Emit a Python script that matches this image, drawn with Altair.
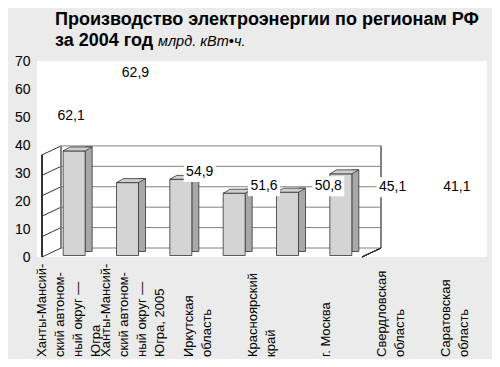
import altair as alt
import pandas as pd

# ---- data ----
categories = [
    "Ханты-Мансий-\nский автоном-\nный округ —\nЮгра",
    "Ханты-Мансий-\nский автоном-\nный округ —\nЮгра, 2005",
    "Иркутская\nобласть",
    "Красноярский\nкрай",
    "г. Москва",
    "Свердловская\nобласть",
    "Саратовская\nобласть",
]
label_values = [62.1, 62.9, 54.9, 51.6, 50.8, 45.1, 41.1]
# height (left-axis units) at which each value label is printed
label_heights = [50.4, 65.7, 30.4, 25.3, 25.3, 24.9, 24.9]
# heights of the six 3-D bars, in the units of the 3-D box (0..50)
bar_heights = [51.2, 35.7, 37.3, 30.5, 31.0, 40.0]
box_levels = [0, 10, 20, 30, 40, 50]
y_ticks = [0, 10, 20, 30, 40, 50, 60, 70]

title_line1 = "Производство электроэнергии по регионам РФ"
title_line2 = "за 2004 год"
title_unit = "млрд. кВт•ч."

FONT = "Liberation Sans, Arial, sans-serif"
DX, DY = 19, 9          # depth of the 3-D box (px)
FRONT_W, SIDE_W, CAP_H = 22, 7, 4
BAR_SHIFT, BAR_LIFT = 5.5, 1.5
LINE_H = 18

lab_df = pd.DataFrame({
    "cat": categories,
    "h": label_heights,
    "text": [f"{v:.1f}".replace(".", ",") for v in label_values],
    "n": [c.count("\n") + 1 for c in categories],
})
bar_df = pd.DataFrame({"i": list(range(len(bar_heights))), "h": bar_heights})
bar_df["xc"] = bar_df["i"] + 0.5
lev_df = pd.DataFrame({"v": box_levels})

# ---- 3-D box group ----
bx = alt.Scale(domain=[0, 6], range=[0, 330], nice=False, zero=False)
by = alt.Scale(domain=[0, 96], nice=False, zero=False)

grid_back = alt.Chart(lev_df).mark_rule(
    color="#808080", strokeWidth=1, xOffset=DX, x2Offset=DX, yOffset=-DY, y2Offset=-DY
).encode(x=alt.X(datum=0, scale=bx, axis=None), x2=alt.X2(datum=6),
         y=alt.Y("v:Q", scale=by, axis=None), y2="v:Q")

diag = alt.Chart(lev_df).mark_rule(
    color="#333333", strokeWidth=1, x2Offset=DX, y2Offset=-DY
).encode(x=alt.X(datum=0, scale=bx, axis=None), x2=alt.X2(datum=0),
         y=alt.Y("v:Q", scale=by, axis=None), y2="v:Q")

front_v = alt.Chart(lev_df).mark_rule(color="#333333", strokeWidth=1).encode(
    x=alt.X(datum=0, scale=bx, axis=None),
    y=alt.Y(datum=0, scale=by, axis=None), y2=alt.Y2(datum=50))

back_l = alt.Chart(lev_df).mark_rule(
    color="#808080", strokeWidth=1, xOffset=DX, yOffset=-DY, y2Offset=-DY
).encode(x=alt.X(datum=0, scale=bx, axis=None),
         y=alt.Y(datum=0, scale=by, axis=None), y2=alt.Y2(datum=50))

back_r = alt.Chart(lev_df).mark_rule(
    color="#808080", strokeWidth=1, xOffset=DX, yOffset=-DY, y2Offset=-DY
).encode(x=alt.X(datum=6, scale=bx, axis=None),
         y=alt.Y(datum=0, scale=by, axis=None), y2=alt.Y2(datum=50))

floor_r = alt.Chart(lev_df).mark_rule(
    color="#333333", strokeWidth=1, x2Offset=DX, y2Offset=-DY
).encode(x=alt.X(datum=6, scale=bx, axis=None), x2=alt.X2(datum=6),
         y=alt.Y(datum=0, scale=by, axis=None), y2=alt.Y2(datum=0))

side = alt.Chart(bar_df).mark_bar(
    width=SIDE_W, xOffset=BAR_SHIFT + FRONT_W / 2 + SIDE_W / 2,
    yOffset=-BAR_LIFT - CAP_H, y2Offset=-BAR_LIFT - CAP_H,
    fill="#a8a8a8", stroke="#333333", strokeWidth=0.8
).encode(x=alt.X("xc:Q", scale=bx, axis=None),
         y=alt.Y("h:Q", scale=by, axis=None), y2=alt.Y2(datum=0))

front = alt.Chart(bar_df).mark_bar(
    width=FRONT_W, xOffset=BAR_SHIFT, yOffset=-BAR_LIFT, y2Offset=-BAR_LIFT,
    fill="#d4d4d4", stroke="#333333", strokeWidth=0.8
).encode(x=alt.X("xc:Q", scale=bx,
                 axis=alt.Axis(values=[0, 1, 2, 3, 4, 5, 6], orient="bottom", labels=False,
                               ticks=True, tickSize=4, tickColor="#333333", domain=True,
                               domainColor="#333333", grid=False, title=None)),
         y=alt.Y("h:Q", scale=by, axis=None), y2=alt.Y2(datum=0))

r = (FRONT_W + SIDE_W) / 2
px = lambda v: round(v / r, 4)
cap_path = (f"M {px(-r)} {px(CAP_H/2)} L {px(-r + SIDE_W)} {px(-CAP_H/2)} "
            f"L {px(r)} {px(-CAP_H/2)} L {px(r - SIDE_W)} {px(CAP_H/2)} Z")
cap = alt.Chart(bar_df).mark_point(
    shape=cap_path, size=(2 * r) ** 2, filled=True, fill="#cfcfcf", fillOpacity=1,
    stroke="#333333", strokeWidth=0.8, opacity=1,
    xOffset=BAR_SHIFT + SIDE_W / 2, yOffset=-BAR_LIFT - CAP_H / 2
).encode(x=alt.X("xc:Q", scale=bx, axis=None), y=alt.Y("h:Q", scale=by, axis=None))

box_group = alt.layer(grid_back, diag, front_v, back_l, back_r, floor_r, side, front, cap)

# ---- label group (left axis, value labels, category names, title) ----
ly_scale = alt.Scale(domain=[0, 70], nice=False, zero=True)
xc = alt.X("cat:N", sort=categories, scale=alt.Scale(paddingInner=0, paddingOuter=0), axis=None)
ly = alt.Y("h:Q", scale=ly_scale,
           axis=alt.Axis(values=y_ticks, orient="left", domain=False, ticks=False, grid=False,
                         labelPadding=7, labelFont=FONT, labelFontSize=14, labelOverlap=False,
                         labelColor="black", title=None))

lab_boxes = alt.Chart(lab_df).mark_point(
    shape="M -1 -0.625 L 1 -0.625 L 1 0.625 L -1 0.625 Z", size=1024, filled=True,
    fill="white", fillOpacity=1, opacity=1, strokeWidth=0, xOffset=2
).encode(x=xc, y=ly)

lab_text = alt.Chart(lab_df).mark_text(
    font=FONT, fontSize=14, color="black", baseline="middle", dx=2
).encode(x=xc, y=ly, text="text:N")


def cat_layer(n):
    return alt.Chart(lab_df).transform_filter(alt.datum.n == n).mark_text(
        font=FONT, fontSize=13, color="black", angle=270, align="left", baseline="middle",
        lineBreak="\n", lineHeight=LINE_H, dy=-(n - 1) * LINE_H / 2
    ).encode(x=xc, y=alt.value(296), text="cat:N")


cat_layers = [cat_layer(n) for n in sorted(set(lab_df["n"]))]

t_df = pd.DataFrame({"a": [title_line1], "b": [title_line2], "c": [title_unit]})
t1 = alt.Chart(t_df).mark_text(font=FONT, fontSize=18, fontWeight="bold", align="left",
                               baseline="alphabetic", color="black").encode(
    x=alt.value(18), y=alt.value(-36), text="a:N")
t2 = alt.Chart(t_df).mark_text(font=FONT, fontSize=18, fontWeight="bold", align="left",
                               baseline="alphabetic", color="black").encode(
    x=alt.value(18), y=alt.value(-15), text="b:N")
t3 = alt.Chart(t_df).mark_text(font=FONT, fontSize=14.5, fontStyle="italic", align="left",
                               baseline="alphabetic", color="black").encode(
    x=alt.value(121), y=alt.value(-15), text="c:N")

lab_group = alt.layer(lab_boxes, lab_text, *cat_layers, t1, t2, t3)

chart = alt.layer(box_group, lab_group).resolve_scale(x="independent", y="independent").properties(
    width=450, height=196,
    autosize=alt.AutoSizeParams(type="none"),
    padding={"left": 29, "top": 53, "right": 5, "bottom": 102},
    background="#ebebeb",
).configure_view(fill="white", stroke=None)

chart.save("out.html", embed_options={"renderer": "svg", "actions": False})
